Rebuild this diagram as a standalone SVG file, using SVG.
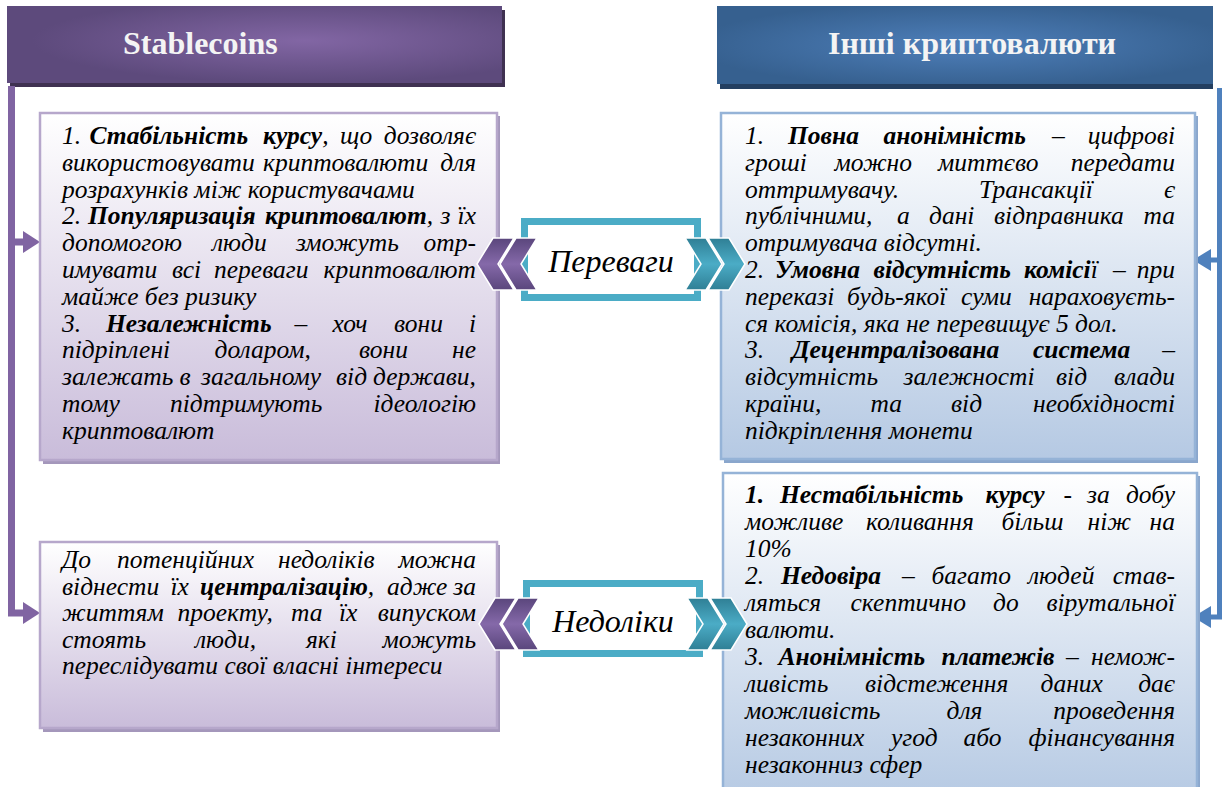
<svg xmlns="http://www.w3.org/2000/svg" width="1222" height="787" viewBox="0 0 1222 787">
<style>
.t{font-family:'Liberation Serif','Times New Roman',serif;font-style:italic;font-size:25.5px;fill:#000}
.b{font-weight:bold}
.e{text-anchor:end}
.h{font-family:'Liberation Serif','Times New Roman',serif;font-weight:bold;font-size:32px;fill:#f4f4f4}
.c{font-family:'Liberation Serif','Times New Roman',serif;font-style:italic;font-size:32px;fill:#000;text-anchor:middle}
.bl{fill:url(#gL);stroke:#b6a7cb;stroke-width:2.5}
.br{fill:url(#gR);stroke:#95b3d7;stroke-width:2.5}
.sl{fill:#a497bb}
.sr{fill:#8aa6cc}
.cb{fill:#fff;stroke:#4bacc6;stroke-width:7}
.cp{fill:url(#chP);stroke:#fff;stroke-width:1.5}
.ct{fill:url(#chT);stroke:#fff;stroke-width:1.5}
</style>
<defs>
<linearGradient id="gL" x1="0" y1="0" x2="0" y2="1"><stop offset="0" stop-color="#ffffff"/><stop offset="1" stop-color="#c9bcda"/></linearGradient>
<linearGradient id="gR" x1="0" y1="0" x2="0" y2="1"><stop offset="0" stop-color="#ffffff"/><stop offset="1" stop-color="#b5c9e3"/></linearGradient>
<radialGradient id="hL" cx="0.6" cy="0.45" r="0.55"><stop offset="0" stop-color="#8266a4"/><stop offset="1" stop-color="#5d4a7c"/></radialGradient>
<radialGradient id="hR" cx="0.5" cy="0.5" r="0.55"><stop offset="0" stop-color="#4e7fba"/><stop offset="1" stop-color="#36608f"/></radialGradient>
<linearGradient id="chP" x1="0" y1="0" x2="0" y2="1"><stop offset="0" stop-color="#5a467c"/><stop offset="0.5" stop-color="#8569a9"/><stop offset="1" stop-color="#5a467c"/></linearGradient>
<linearGradient id="chT" x1="0" y1="0" x2="0" y2="1"><stop offset="0" stop-color="#2f7f95"/><stop offset="0.5" stop-color="#4bacc6"/><stop offset="1" stop-color="#2f7f95"/></linearGradient>
</defs>
<rect width="1222" height="787" fill="#fff"/>

<g id="header-stablecoins">
<rect x="10" y="10" width="495" height="77" fill="#3f3151"/>
<rect x="7" y="6" width="495" height="77" fill="url(#hL)"/>
<text class="h" x="123" y="54">Stablecoins</text>
</g>
<g id="header-other">
<rect x="720" y="10" width="493" height="79" fill="#243f60"/>
<rect x="717" y="6" width="496" height="78" fill="url(#hR)"/>
<text class="h" x="972" y="54" text-anchor="middle">Інші криптовалюти</text>
</g>

<g id="connectors">
<path d="M11.5,86V613H26M11.5,242H26" fill="none" stroke="#8064a2" stroke-width="7"/>
<polygon points="23,231 40,242 23,253" fill="#8064a2"/>
<polygon points="23,602 40,613 23,624" fill="#8064a2"/>
<path d="M1219.5,88V617H1210M1219.5,260H1210" fill="none" stroke="#4f81bd" stroke-width="5"/>
<polygon points="1211,249 1193,260 1211,271" fill="#4f81bd"/>
<polygon points="1211,606 1193,617 1211,628" fill="#4f81bd"/>
</g>

<g id="stable-advantages">
<rect class="sl" x="43" y="116" width="457" height="348"/>
<rect class="bl" x="40" y="113" width="457" height="347"/>
<text class="t" y="144"><tspan x="62">1.</tspan><tspan x="89.5" class="b">Стабільність</tspan><tspan x="263" class="b">курсу</tspan><tspan>,</tspan><tspan x="340">що</tspan><tspan x="476" class="e">дозволяє</tspan></text>
<text class="t" y="170.8"><tspan x="62">використовувати</tspan><tspan x="263">криптовалюти</tspan><tspan x="476" class="e">для</tspan></text>
<text class="t" y="197.6" x="62">розрахунків між користувачами</text>
<text class="t" y="224.4"><tspan x="62">2.</tspan><tspan x="88" class="b">Популяризація</tspan><tspan x="265" class="b">криптовалют</tspan><tspan>,</tspan><tspan x="440.5">з</tspan><tspan x="476" class="e">їх</tspan></text>
<text class="t" y="251.2"><tspan x="62">допомогою</tspan><tspan x="212">люди</tspan><tspan x="296">зможуть</tspan><tspan x="476" class="e">отр-</tspan></text>
<text class="t" y="278"><tspan x="62">имувати</tspan><tspan x="172">всі</tspan><tspan x="214">переваги</tspan><tspan x="476" class="e">криптовалют</tspan></text>
<text class="t" y="304.8" x="62">майже без ризику</text>
<text class="t" y="331.6"><tspan x="62">3.</tspan><tspan x="106" class="b">Незалежність</tspan><tspan x="294.5">–</tspan><tspan x="332.5">хоч</tspan><tspan x="394">вони</tspan><tspan x="476" class="e">і</tspan></text>
<text class="t" y="358.4"><tspan x="62">підріплені</tspan><tspan x="214.5">доларом,</tspan><tspan x="359">вони</tspan><tspan x="476" class="e">не</tspan></text>
<text class="t" y="385.2"><tspan x="62">залежать</tspan><tspan x="179.5">в</tspan><tspan x="201">загальному</tspan><tspan x="336">від</tspan><tspan x="476" class="e">держави,</tspan></text>
<text class="t" y="412"><tspan x="62">тому</tspan><tspan x="170">підтримують</tspan><tspan x="476" class="e">ідеологію</tspan></text>
<text class="t" y="438.8" x="62">криптовалют</text>
</g>

<g id="other-advantages">
<rect class="sr" x="724" y="116" width="474" height="347"/>
<rect class="br" x="721" y="113" width="474" height="346"/>
<text class="t" y="144"><tspan x="745">1.</tspan><tspan x="788" class="b">Повна</tspan><tspan x="883.5" class="b">анонімність</tspan><tspan x="1052">–</tspan><tspan x="1175" class="e">цифрові</tspan></text>
<text class="t" y="170.8"><tspan x="745">гроші</tspan><tspan x="834.5">можно</tspan><tspan x="938">миттєво</tspan><tspan x="1175" class="e">передати</tspan></text>
<text class="t" y="197.6"><tspan x="745">оттримувачу.</tspan><tspan x="979">Трансакції</tspan><tspan x="1175" class="e">є</tspan></text>
<text class="t" y="224.4"><tspan x="745">публічними,</tspan><tspan x="897">а</tspan><tspan x="929">дані</tspan><tspan x="994">відправника</tspan><tspan x="1175" class="e">та</tspan></text>
<text class="t" y="251.2" x="745">отримувача відсутні.</text>
<text class="t" y="278"><tspan x="745">2.</tspan><tspan x="775" class="b">Умовна</tspan><tspan x="873.5" class="b">відсутність</tspan><tspan x="1024" class="b">комісі</tspan><tspan>ї</tspan><tspan x="1113">–</tspan><tspan x="1175" class="e">при</tspan></text>
<text class="t" y="304.8"><tspan x="745">переказі</tspan><tspan x="847">будь-якої</tspan><tspan x="961">суми</tspan><tspan x="1175" class="e">нараховуєть-</tspan></text>
<text class="t" y="331.6" x="745">ся комісія, яка не перевищує 5 дол.</text>
<text class="t" y="358.4"><tspan x="745">3.</tspan><tspan x="792" class="b">Децентралізована</tspan><tspan x="1033" class="b">система</tspan><tspan x="1175" class="e">–</tspan></text>
<text class="t" y="385.2"><tspan x="745">відсутність</tspan><tspan x="903.5">залежності</tspan><tspan x="1056">від</tspan><tspan x="1175" class="e">влади</tspan></text>
<text class="t" y="412"><tspan x="745">країни,</tspan><tspan x="870.5">та</tspan><tspan x="951">від</tspan><tspan x="1175" class="e">необхідності</tspan></text>
<text class="t" y="438.8" x="745">підкріплення монети</text>
</g>

<g id="stable-disadvantages">
<rect class="sl" x="43" y="545" width="457" height="187"/>
<rect class="bl" x="40" y="542" width="457" height="186"/>
<text class="t" y="568"><tspan x="62">До</tspan><tspan x="117">потенційних</tspan><tspan x="278">недоліків</tspan><tspan x="476" class="e">можна</tspan></text>
<text class="t" y="594.5"><tspan x="62">віднести</tspan><tspan x="170.5">їх</tspan><tspan x="200" class="b">централізацію</tspan><tspan>,</tspan><tspan x="387">адже</tspan><tspan x="476" class="e">за</tspan></text>
<text class="t" y="621"><tspan x="62">життям</tspan><tspan x="177.5">проекту,</tspan><tspan x="291">та</tspan><tspan x="339">їх</tspan><tspan x="476" class="e">випуском</tspan></text>
<text class="t" y="647.5"><tspan x="62">стоять</tspan><tspan x="195">люди,</tspan><tspan x="306">які</tspan><tspan x="476" class="e">можуть</tspan></text>
<text class="t" y="674" x="62">переслідувати свої власні інтереси</text>
</g>

<g id="other-disadvantages">
<rect class="sr" x="726" y="476" width="474" height="330"/>
<rect class="br" x="723" y="473" width="474" height="330"/>
<text class="t" y="503"><tspan x="745" class="b">1.</tspan><tspan x="780" class="b">Нестабільність</tspan><tspan x="985.5" class="b">курсу</tspan><tspan x="1063.5">-</tspan><tspan x="1087">за</tspan><tspan x="1175" class="e">добу</tspan></text>
<text class="t" y="530"><tspan x="745">можливе</tspan><tspan x="866">коливання</tspan><tspan x="1001.5">більш</tspan><tspan x="1087.5">ніж</tspan><tspan x="1175" class="e">на</tspan></text>
<text class="t" y="557" x="745">10%</text>
<text class="t" y="584"><tspan x="745">2.</tspan><tspan x="781" class="b">Недовіра</tspan><tspan x="902">–</tspan><tspan x="931.5">багато</tspan><tspan x="1028">людей</tspan><tspan x="1175" class="e">став-</tspan></text>
<text class="t" y="611"><tspan x="745">ляться</tspan><tspan x="850.5">скептично</tspan><tspan x="993">до</tspan><tspan x="1175" class="e">вірутальної</tspan></text>
<text class="t" y="638" x="745">валюти.</text>
<text class="t" y="665"><tspan x="745">3.</tspan><tspan x="778.5" class="b">Анонімність</tspan><tspan x="941.5" class="b">платежів</tspan><tspan x="1066">–</tspan><tspan x="1175" class="e">немож-</tspan></text>
<text class="t" y="692"><tspan x="745">ливість</tspan><tspan x="865">відстеження</tspan><tspan x="1040.5">даних</tspan><tspan x="1175" class="e">дає</tspan></text>
<text class="t" y="719"><tspan x="745">можливість</tspan><tspan x="946.5">для</tspan><tspan x="1175" class="e">проведення</tspan></text>
<text class="t" y="746"><tspan x="745">незаконних</tspan><tspan x="891">угод</tspan><tspan x="963.5">або</tspan><tspan x="1175" class="e">фінансування</tspan></text>
<text class="t" y="773" x="745">незаконниз сфер</text>
</g>

<g id="advantages">
<rect class="cb" x="524.5" y="221.5" width="173" height="76"/>
<polygon class="cp" points="477,264 493,238 514,238 498,264 514,290 493,290"/>
<polygon class="cp" points="500,264 516,238 537,238 521,264 537,290 516,290"/>
<polygon class="ct" points="722,264 706,238 685,238 701,264 685,290 706,290"/>
<polygon class="ct" points="745,264 729,238 708,238 724,264 708,290 729,290"/>
<text class="c" x="611" y="272">Переваги</text>
</g>

<g id="disadvantages">
<rect class="cb" x="526.5" y="583.5" width="173" height="70"/>
<polygon class="cp" points="479,624 495,598 516,598 500,624 516,650 495,650"/>
<polygon class="cp" points="502,624 518,598 539,598 523,624 539,650 518,650"/>
<polygon class="ct" points="724,624 708,598 687,598 703,624 687,650 708,650"/>
<polygon class="ct" points="747,624 731,598 710,598 726,624 710,650 731,650"/>
<text class="c" x="613" y="632">Недоліки</text>
</g>
</svg>
